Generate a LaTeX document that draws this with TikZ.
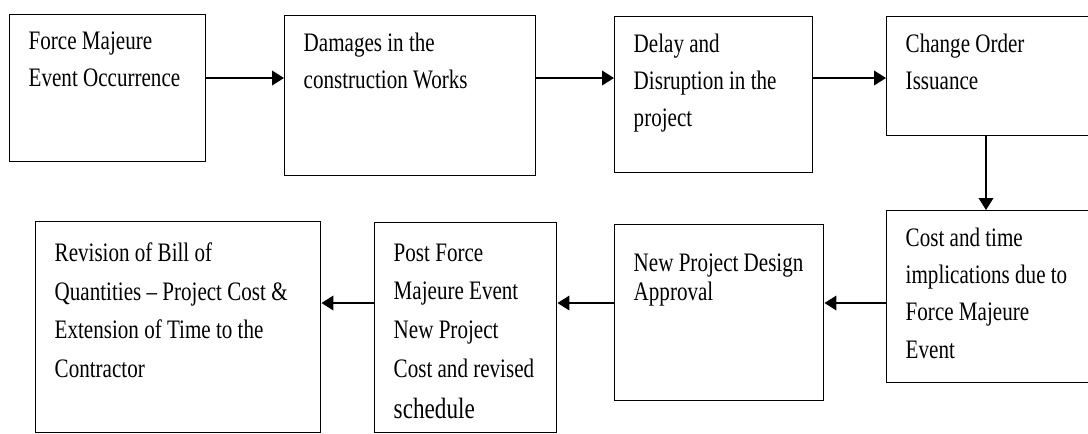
\documentclass[tikz,border=0pt]{standalone}
\usepackage{fontspec}
\setmainfont{Liberation Serif}[FakeStretch=0.79]
\usetikzlibrary{arrows.meta}

% text block sitting at the top of a fixed-size box
\newcommand{\boxtext}[3]{\parbox[c][#2][t]{#1}{\raggedright #3}}

\begin{document}
\begin{tikzpicture}[x=0.75pt, y=-0.75pt,
  blk/.style={draw, line width=1.1pt, anchor=north west,
    inner xsep=14.25pt, inner ysep=12.75pt,
    font=\fontsize{20}{28}\selectfont},
  loose/.style={font=\fontsize{20}{29}\selectfont},
  arr/.style={line width=1.2pt, -{Triangle[length=9pt,width=11pt]}}]

\useasboundingbox (0,0) rectangle (1088,433);

% boxes, top row
\node[blk] (occur) at (9,14) {\boxtext{118.5pt}{84.75pt}{Force Majeure\\Event Occurrence}};
\node[blk] (damage) at (284,15) {\boxtext{159.75pt}{94.5pt}{Damages in the\\construction Works}};
\node[blk] (delay) at (614,16) {\boxtext{120pt}{91.5pt}{Delay and\\Disruption in the\\project}};
\node[blk] (order) at (886,16) {\boxtext{132pt}{63.75pt}{Change Order\\Issuance}};

% boxes, bottom row
\node[blk] (impl) at (886,210) {\boxtext{132pt}{103.5pt}{Cost and time\\implications due to\\Force Majeure\\Event}};
\node[blk] (design) at (614,224) {\boxtext{128.25pt}{106.5pt}{\vspace*{9pt}New Project Design\\[-6pt]Approval}};
\node[blk, loose] (post) at (374,222) {\boxtext{108pt}{132pt}{\vspace*{3pt}Post Force\\Majeure Event\\New Project\\Cost and revised\\[2pt]{\fontsize{22}{29}\selectfont schedule}}};
\node[blk, loose] (boq) at (35,221) {\boxtext{185.25pt}{132.75pt}{\vspace*{3pt}Revision of Bill of\\Quantities -- Project Cost \&\\Extension of Time to the\\Contractor}};

% arrow levels
\coordinate (toprow) at (0,78);
\coordinate (botrow) at (0,303);
\coordinate (drop) at (986,0);

% arrows
\draw[arr] (occur.east |- toprow) -- (damage.west |- toprow);
\draw[arr] (damage.east |- toprow) -- (delay.west |- toprow);
\draw[arr] (delay.east |- toprow) -- (order.west |- toprow);
\draw[arr] (order.south -| drop) -- (impl.north -| drop);
\draw[arr] (impl.west |- botrow) -- (design.east |- botrow);
\draw[arr] (design.west |- botrow) -- (post.east |- botrow);
\draw[arr] (post.west |- botrow) -- (boq.east |- botrow);

\end{tikzpicture}
\end{document}
